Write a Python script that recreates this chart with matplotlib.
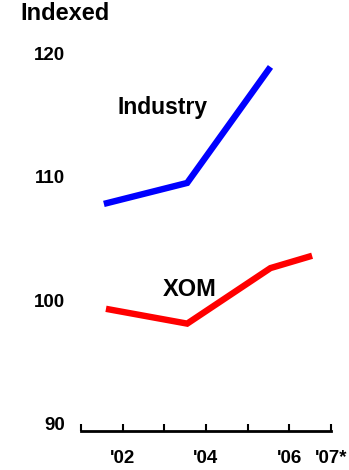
import matplotlib
matplotlib.use("Agg")
import matplotlib.pyplot as plt

# ---- data ----
x_ticks = [0, 1, 2, 3, 4, 5, 6]
x_tick_labels = ["", "'02", "", "'04", "", "'06", "'07*"]
y_ticks = [90, 100, 110, 120]
y_tick_labels = ["90", "100", "110", "120"]

industry_x = [0.55, 2.55, 4.55]
industry_y = [107.8, 109.5, 118.9]

xom_x = [0.6, 2.55, 4.55, 5.55]
xom_y = [99.3, 98.1, 102.6, 103.6]

# ---- figure ----
plt.rcParams['font.family'] = ['Liberation Sans', 'DejaVu Sans']
fig = plt.figure(figsize=(3.49, 4.70), dpi=100)
ax = fig.add_axes([0.232, 0.083, 0.716, 0.856])

ax.plot(industry_x, industry_y, color="#0000FF", lw=4.6, solid_capstyle="butt", solid_joinstyle="miter")
ax.plot(xom_x, xom_y, color="#FF0000", lw=4.6, solid_capstyle="butt", solid_joinstyle="miter")

ax.set_xlim(0, 6)
ax.set_ylim(89.4, 122)

ax.set_xticks(x_ticks)
ax.set_xticklabels(x_tick_labels, fontsize=13.5, fontweight="bold")
ax.set_yticks(y_ticks)
ax.set_yticklabels(y_tick_labels, fontsize=13.5, fontweight="bold")

ax.tick_params(axis="x", direction="in", length=5, width=1.5, pad=13.5)
ax.tick_params(axis="y", length=0, pad=11.5)

for s in ["left", "top", "right"]:
    ax.spines[s].set_visible(False)
ax.spines["bottom"].set_linewidth(2)

ax.text(1.95, 115.6, "Industry", fontsize=16.5, fontweight="bold", ha="center", va="center")
ax.text(2.62, 100.9, "XOM", fontsize=17, fontweight="bold", ha="center", va="center")

fig.text(20 / 349, 1 - 13 / 470, "Indexed", fontsize=17, fontweight="bold", ha="left", va="center")

fig.savefig("out.png", dpi=100)
